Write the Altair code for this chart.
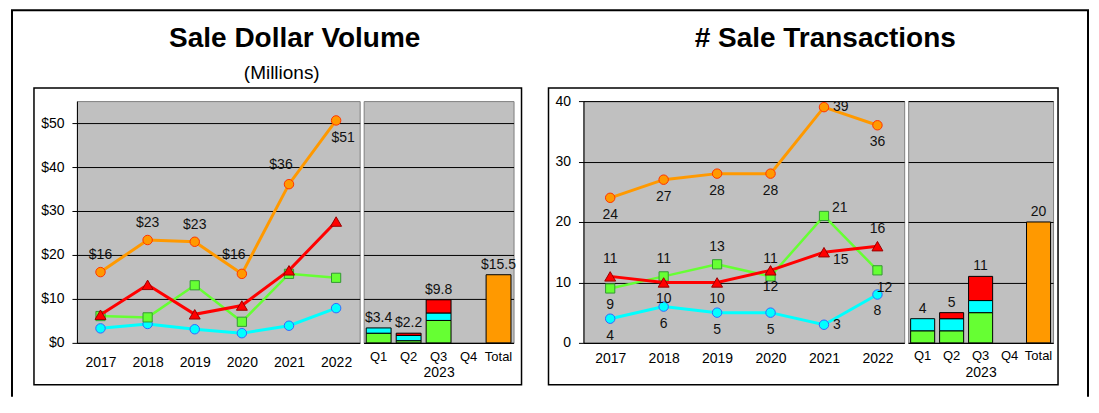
import altair as alt
import pandas as pd

# ---------------- data ----------------
years = ["2017", "2018", "2019", "2020", "2021", "2022"]
quarters = ["Q1", "Q2", "Q3", "Q4", "Total"]

# Sale Dollar Volume (millions)
dv_orange = [16.1, 23.4, 23.0, 15.7, 36.1, 50.6]
dv_red = [6.4, 13.2, 6.5, 8.5, 16.5, 27.6]
dv_green = [6.1, 5.8, 13.1, 4.8, 15.7, 14.8]
dv_cyan = [3.3, 4.3, 3.1, 2.2, 3.9, 7.9]
dv_orange_pos = ["above", "above", "above", "above-left", "above-left", "below-right"]

dq_green = [2.2, 0.5, 5.1]
dq_cyan = [1.2, 1.2, 1.7]
dq_red = [0.0, 0.5, 3.0]
dq_total = 15.5

# Sale Transactions
tr_orange = [24, 27, 28, 28, 39, 36]
tr_green = [9, 11, 13, 11, 21, 12]
tr_red = [11, 10, 10, 12, 15, 16]
tr_cyan = [4, 6, 5, 5, 3, 8]
tr_orange_pos = ["below", "below", "below", "below", "right", "below"]
tr_green_pos = ["below", "above", "above", "above", "right-up", "below-right"]
tr_red_pos = ["above", "below", "below", "below", "right-down", "above"]
tr_cyan_pos = ["below", "below", "below", "below", "right", "below"]

tq_green = [2, 2, 5]
tq_cyan = [2, 2, 2]
tq_red = [0, 1, 4]
tq_total = 20

# ---------------- styles ----------------
FONT = "Liberation Sans"
ORDER = ["cyan", "green", "red", "orange"]
LINE_COLOR = {"orange": "#FF9900", "red": "#FF0000", "green": "#66FF33", "cyan": "#00FFFF"}
MARK_STROKE = {"orange": "#FF3300", "red": "#990000", "green": "#339933", "cyan": "#3366FF"}
SHAPE = {"orange": "circle", "red": "triangle-up", "green": "square", "cyan": "circle"}
SIZE = {"orange": 90, "red": 120, "green": 85, "cyan": 90}
LINE_W = {"orange": 3, "red": 3, "green": 2.5, "cyan": 3}
PLACE = {
    "above": dict(align="center", dx=0, dy=-17),
    "below": dict(align="center", dx=0, dy=17),
    "right": dict(align="left", dx=9, dy=0),
    "right-up": dict(align="left", dx=8, dy=-8),
    "right-down": dict(align="left", dx=9, dy=8),
    "above-left": dict(align="center", dx=-8, dy=-19),
    "below-right": dict(align="center", dx=7, dy=18),
}
PH = 242
one = pd.DataFrame({"k": [0]})


def make_line_df(values, positions):
    rows = []
    for s in ORDER:
        pos = positions.get(s, ["none"] * len(years))
        for i, yr in enumerate(years):
            rows.append(dict(year=yr, series=s, value=values[s][i], pos=pos[i]))
    return pd.DataFrame(rows)


def make_bar_df(green, cyan, red, total):
    rows = []
    for i, q in enumerate(quarters[:3]):
        for s, arr, o in (("green", green, 0), ("cyan", cyan, 1), ("red", red, 2)):
            if arr[i] > 0:
                rows.append(dict(q=q, series=s, value=arr[i], ord=o))
    rows.append(dict(q="Total", series="total", value=total, ord=0))
    return pd.DataFrame(rows)


def rect_layer(x, x2, y, y2, sw):
    return alt.Chart(one).mark_rect(fillOpacity=0, stroke="#000000", strokeWidth=sw).encode(
        x=alt.value(x), x2=alt.value(x2), y=alt.value(y), y2=alt.value(y2))


def rule_layer(x, x2, y, y2, sw):
    return alt.Chart(one).mark_rule(color="#000000", strokeWidth=sw).encode(
        x=alt.value(x), x2=alt.value(x2), y=alt.value(y), y2=alt.value(y2))


def text_layer(txt, x, y, size, weight):
    return alt.Chart(one).mark_text(text=txt, font=FONT, fontSize=size, fontWeight=weight,
                                    align="center", baseline="alphabetic", color="#000000").encode(
        x=alt.value(x), y=alt.value(y))


def line_panel(df, ymax, ticks, yfmt, lfmt, width, lpad, deco):
    X = alt.X("year:N", sort=years, scale=alt.Scale(type="point", domain=years, padding=0.5),
              axis=alt.Axis(title=None, labelAngle=0, ticks=False, grid=False, domain=True,
                            domainColor="#000000", labelPadding=lpad, labelFontSize=14))
    Y = alt.Y("value:Q", scale=alt.Scale(domain=[0, ymax], nice=False, zero=True),
              axis=alt.Axis(title=None, values=ticks, format=yfmt, grid=True, gridColor="#000000",
                            gridWidth=1, ticks=True, tickSize=5, tickColor="#000000", labelPadding=8,
                            domain=True, domainColor="#000000", labelFontSize=14))
    layers = []
    for s in ORDER:
        base = alt.Chart(df).transform_filter(alt.datum.series == s)
        layers.append(base.mark_line(color=LINE_COLOR[s], strokeWidth=LINE_W[s]).encode(x=X, y=Y))
        layers.append(base.mark_point(shape=SHAPE[s], size=SIZE[s], filled=True, fill=LINE_COLOR[s],
                                      stroke=MARK_STROKE[s], strokeWidth=1, opacity=1).encode(x=X, y=Y))
    for p, st in PLACE.items():
        layers.append(alt.Chart(df).transform_filter(alt.datum.pos == p).mark_text(
            font=FONT, fontSize=14, color="#111111", baseline="middle", **st).encode(
            x=X, y=Y, text=alt.Text("value:Q", format=lfmt)))
    layers += deco
    return alt.layer(*layers).properties(width=width, height=PH)


def bar_panel(df, ymax, ticks, width, tfmt, lpad, tpad):
    X = alt.X("q:N", sort=quarters, scale=alt.Scale(domain=quarters, paddingInner=0.17, paddingOuter=0.085),
              axis=alt.Axis(title="2023", labelAngle=0, ticks=False, grid=False, domain=True,
                            domainColor="#000000", labelPadding=lpad, labelFontSize=13,
                            titleFontSize=14, titleFontWeight="normal", titlePadding=tpad))
    yscale = alt.Scale(domain=[0, ymax], nice=False, zero=True)
    yaxis = alt.Axis(title=None, values=ticks, labels=False, ticks=False, domain=False,
                     grid=True, gridColor="#000000", gridWidth=1)
    bars = alt.Chart(df).mark_bar(stroke="#000000", strokeWidth=1).encode(
        x=X,
        y=alt.Y("value:Q", stack="zero", scale=yscale, axis=yaxis),
        color=alt.Color("series:N", scale=alt.Scale(domain=["green", "cyan", "red", "total"],
                                                    range=["#66FF33", "#00FFFF", "#FF0000", "#FF9900"]),
                        legend=None),
        order=alt.Order("ord:Q", sort="ascending"))
    labels = alt.Chart(df).transform_aggregate(total="sum(value)", groupby=["q"]).mark_text(
        font=FONT, fontSize=14, color="#111111", baseline="bottom", dy=-3).encode(
        x=X, y=alt.Y("total:Q", scale=yscale, axis=yaxis), text=alt.Text("total:Q", format=tfmt))
    return alt.layer(bars, labels).properties(width=width, height=PH)


def spacer(w):
    return alt.Chart(one).mark_point(opacity=0).encode(x=alt.value(0), y=alt.value(0)).properties(
        width=w, height=PH, view=alt.ViewBackground(fillOpacity=0, strokeOpacity=0))


dv_df = make_line_df({"orange": dv_orange, "red": dv_red, "green": dv_green, "cyan": dv_cyan},
                     {"orange": dv_orange_pos})
tr_df = make_line_df({"orange": tr_orange, "red": tr_red, "green": tr_green, "cyan": tr_cyan},
                     {"orange": tr_orange_pos, "red": tr_red_pos, "green": tr_green_pos, "cyan": tr_cyan_pos})

# outer frame (open at the bottom, as it runs past the visible area) and panel boxes
deco1 = [
    rule_layer(-65, -65, -91, 296, 2),
    rule_layer(-66, 1013, -91, -91, 2),
    rule_layer(1012, 1012, -91, 296, 2),
    rect_layer(-43, 445, -13, 284, 1.5),
    text_layer("Sale Dollar Volume", 218, -54, 28, "bold"),
    text_layer("(Millions)", 205, -22, 19, "normal"),
]
deco2 = [
    rect_layer(-35, 475, -13, 284, 1.5),
    text_layer("# Sale Transactions", 242, -54, 28, "bold"),
]

l1 = line_panel(dv_df, 55, [0, 10, 20, 30, 40, 50], "$.0f", "$.0f", 283, 13, deco1)
b1 = bar_panel(make_bar_df(dq_green, dq_cyan, dq_red, dq_total), 55, [0, 10, 20, 30, 40, 50], 150,
               "$.1f", 8, 2)
l2 = line_panel(tr_df, 40, [0, 10, 20, 30, 40], "d", "d", 321, 9, deco2)
b2 = bar_panel(make_bar_df(tq_green, tq_cyan, tq_red, tq_total), 40, [0, 10, 20, 30, 40], 145,
               "d", 7, 3)

chart = alt.hconcat(l1, spacer(4), b1, spacer(70), l2, spacer(4), b2, spacing=0, bounds="flush").properties(
    padding={"left": 1, "top": 0, "right": 0, "bottom": 0}
).configure_view(fill="#C0C0C0", stroke="#808080", strokeWidth=1).configure_axis(
    labelFont=FONT, titleFont=FONT, labelColor="#000000", titleColor="#000000")

chart.save("out.html", embed_options={"renderer": "svg", "actions": False})
